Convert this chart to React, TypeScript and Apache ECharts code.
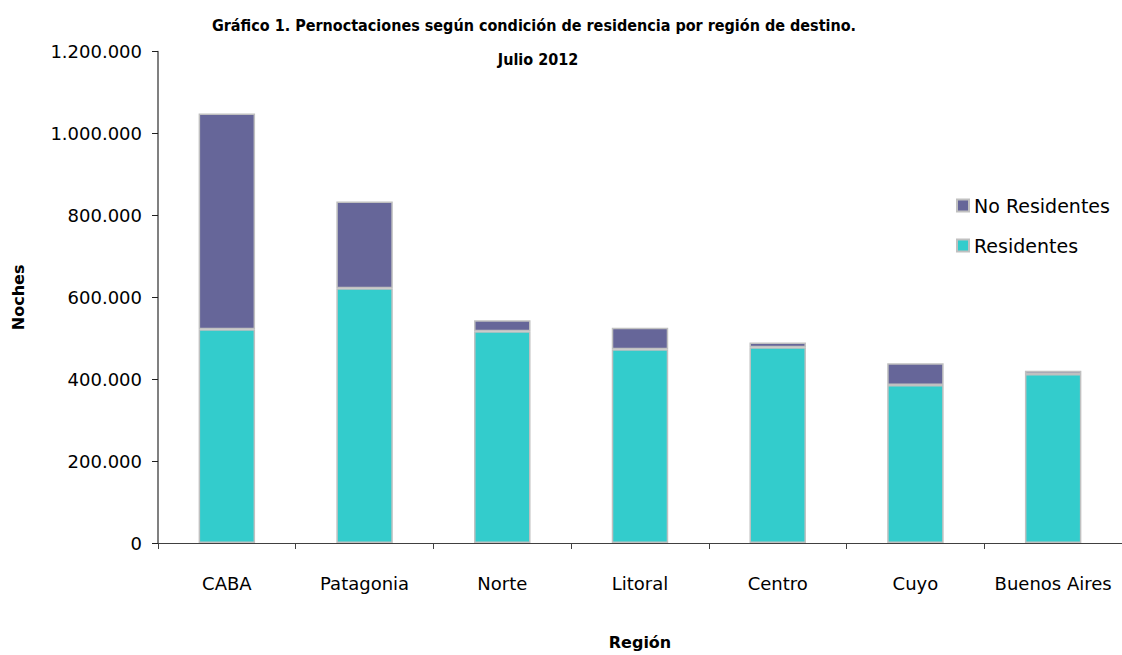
import React, { useEffect, useRef } from "react";
import * as echarts from "echarts";

const categories = ["CABA", "Patagonia", "Norte", "Litoral", "Centro", "Cuyo", "Buenos Aires"];
const residentes = [522000, 622000, 517000, 473000, 478000, 386000, 413000];
const noResidentes = [527000, 212000, 27000, 53000, 12000, 53000, 7500];
const yTicks = [0, 200000, 400000, 600000, 800000, 1000000, 1200000];

const FONT = "'DejaVu Sans', sans-serif";
const FONT_COND = "'DejaVu Sans Condensed', 'DejaVu Sans', sans-serif";

function fmt(v: number): string {
  return String(v).replace(/\B(?=(\d{3})+(?!\d))/g, ".");
}

export default function App() {
  const ref = useRef<HTMLDivElement>(null);
  useEffect(() => {
    document.body.style.margin = "0";
    const chart = echarts.init(ref.current!, null, { renderer: "svg" });
    chart.setOption({
      animation: false,
      backgroundColor: "#ffffff",
      textStyle: { fontFamily: FONT },
      title: [
        {
          text: "Gráfico 1. Pernoctaciones según condición de residencia por región de destino.",
          left: 529,
          top: 12,
          textAlign: "center",
          textStyle: { fontFamily: FONT_COND, fontSize: 16, fontWeight: "bold", color: "#000" },
        },
        {
          text: "Julio 2012",
          left: 533,
          top: 46,
          textAlign: "center",
          textStyle: { fontFamily: FONT_COND, fontSize: 16, fontWeight: "bold", color: "#000" },
        },
      ],
      legend: {
        orient: "vertical",
        left: 951,
        top: 191,
        itemWidth: 12,
        itemHeight: 12,
        itemGap: 21,
        icon: "rect",
        data: ["No Residentes", "Residentes"],
        textStyle: { fontFamily: FONT, fontSize: 19, color: "#000" },
      },
      grid: { left: 158, right: 0, top: 51.7, bottom: 107.5, containLabel: false },
      xAxis: {
        type: "category",
        data: categories,
        name: "Región",
        nameLocation: "middle",
        nameGap: 91,
        nameTextStyle: { fontFamily: FONT, fontSize: 16, fontWeight: "bold", color: "#000" },
        axisLine: { lineStyle: { color: "#404040", width: 1 } },
        axisTick: { show: true, length: 6, interval: 0, alignWithLabel: false, lineStyle: { color: "#404040" } },
        axisLabel: { fontFamily: FONT, fontSize: 18, color: "#000", margin: 31, interval: 0 },
      },
      yAxis: {
        type: "value",
        min: 0,
        max: 1200000,
        interval: 200000,
        name: "Noches",
        nameLocation: "middle",
        nameGap: 132,
        nameTextStyle: { fontFamily: FONT, fontSize: 16, fontWeight: "bold", color: "#000" },
        splitLine: { show: false },
        axisLine: { show: true, lineStyle: { color: "#808080", width: 2 } },
        axisTick: { show: true, length: 6, lineStyle: { color: "#202020" } },
        axisLabel: {
          fontFamily: FONT,
          fontSize: 18,
          color: "#000",
          margin: 16,
          formatter: (v: number) => (yTicks.indexOf(v) >= 0 ? fmt(v) : ""),
        },
      },
      series: [
        {
          name: "Residentes",
          type: "bar",
          stack: "total",
          data: residentes,
          barWidth: "41%",
          itemStyle: { color: "#33CCCC", borderColor: "#C0C0C0", borderWidth: 1.5 },
        },
        {
          name: "No Residentes",
          type: "bar",
          stack: "total",
          data: noResidentes,
          barWidth: "41%",
          itemStyle: { color: "#666699", borderColor: "#C0C0C0", borderWidth: 1.5 },
        },
      ],
    });
    return () => chart.dispose();
  }, []);
  return <div ref={ref} style={{ width: 1122, height: 655 }} />;
}
